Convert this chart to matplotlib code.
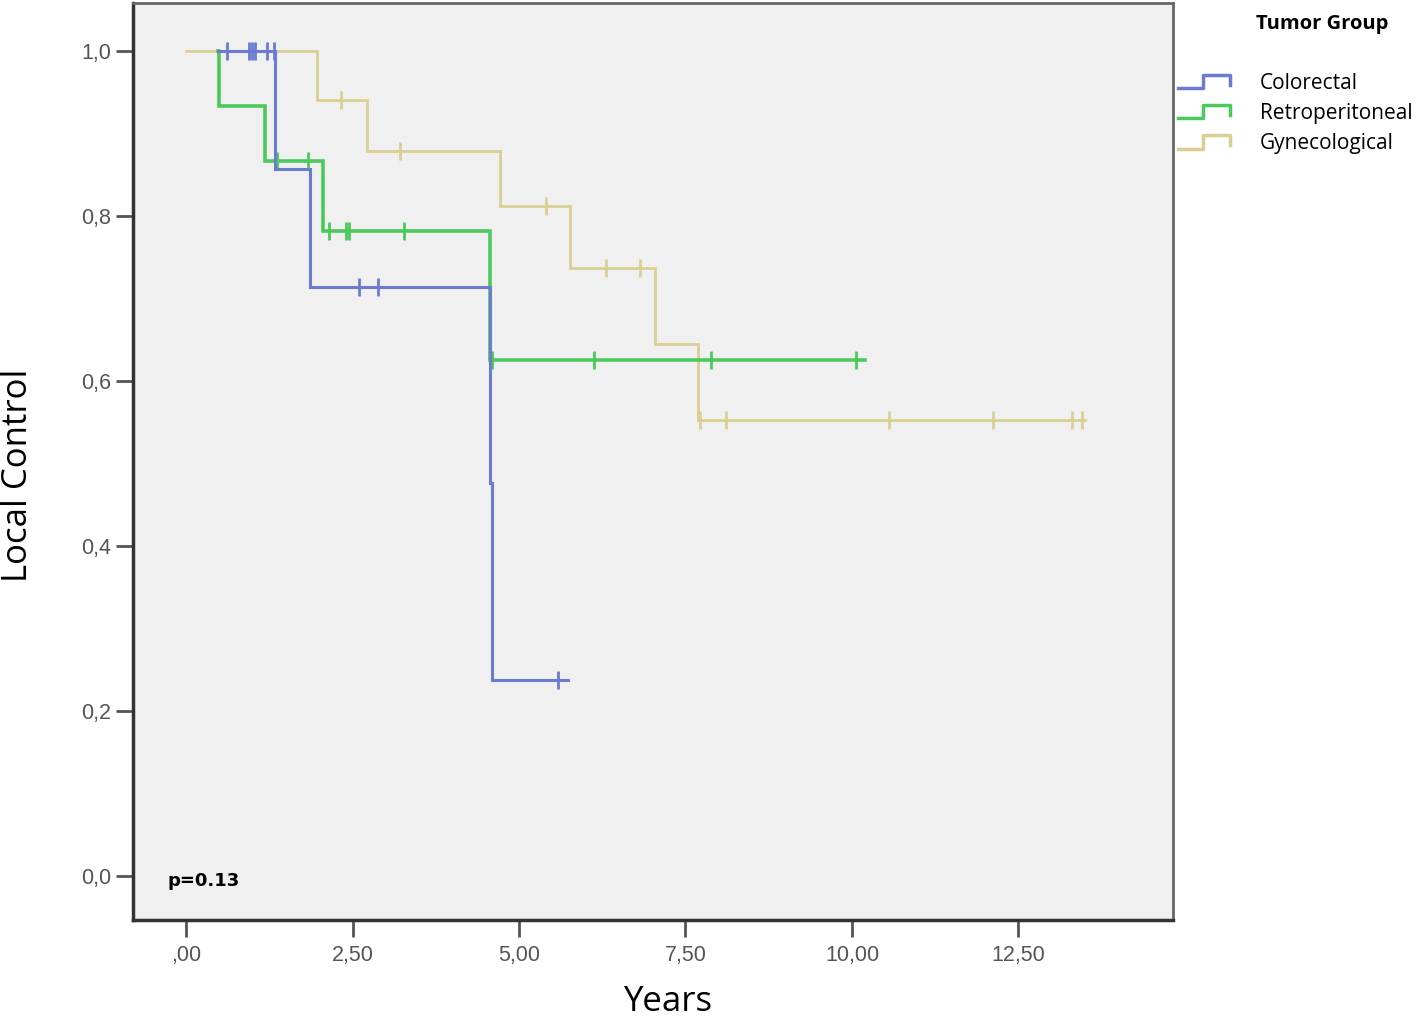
import numpy as np
import matplotlib
matplotlib.use("Agg")
import matplotlib.pyplot as plt
from matplotlib.legend_handler import HandlerBase
from matplotlib.lines import Line2D

# Kaplan-Meier curves (years, local control)
colo_t = [0.48, 1.34, 1.86, 4.56, 4.60]
colo_s = [1.0, 0.857, 0.714, 0.476, 0.238]
colo_end = 5.74
colo_cens = [0.61, 0.94, 0.99, 1.04, 1.21, 1.32, 2.59, 2.89, 5.59]

retro_t = [0.48, 0.50, 1.19, 2.06, 4.56]
retro_s = [1.0, 0.933, 0.866, 0.782, 0.625]
retro_end = 10.2
retro_cens = [1.36, 1.83, 2.14, 2.40, 2.44, 3.27, 4.59, 6.13, 7.88, 10.06]

gyn_t = [0.0, 1.96, 2.72, 4.71, 5.77, 7.04, 7.69]
gyn_s = [1.0, 0.941, 0.879, 0.812, 0.737, 0.645, 0.553]
gyn_end = 13.5
gyn_cens = [2.32, 3.21, 5.41, 6.31, 6.82, 7.72, 8.11, 10.55, 12.12, 13.30, 13.45]

groups = ["Colorectal", "Retroperitoneal", "Gynecological"]
colors = ["#6a7bd0", "#4cc95c", "#d9cf95"]

xticks = [0, 2.5, 5, 7.5, 10, 12.5]
xticklabels = [",00", "2,50", "5,00", "7,50", "10,00", "12,50"]
yticks = [0, 0.2, 0.4, 0.6, 0.8, 1.0]
yticklabels = ["0,0", "0,2", "0,4", "0,6", "0,8", "1,0"]

W, H = 1418, 1019
fig = plt.figure(figsize=(W / 100, H / 100), dpi=100)
ax = fig.add_axes([133 / W, 1 - 920 / H, (1173 - 133) / W, (920 - 3) / H])
ax.set_facecolor("#f0f0f0")


def km(ax, t, s, end, cens, color, lw):
    xs = list(t) + [end]
    ys = list(s) + [s[-1]]
    ax.step(xs, ys, where="post", color=color, lw=lw, solid_joinstyle="miter")
    idx = np.searchsorted(t, cens, side="right") - 1
    cy = np.array(s)[idx]
    ax.plot(cens, cy, ls="none", marker="|", ms=13, mew=2, color=color)


km(ax, gyn_t, gyn_s, gyn_end, gyn_cens, colors[2], 2.0)
km(ax, retro_t, retro_s, retro_end, retro_cens, colors[1], 2.6)
km(ax, colo_t, colo_s, colo_end, colo_cens, colors[0], 2.2)

ax.set_xlim(-0.796, 14.82)
ax.set_ylim(-0.0533, 1.058)
ax.set_xticks(xticks)
ax.set_xticklabels(xticklabels)
ax.set_yticks(yticks)
ax.set_yticklabels(yticklabels)
ax.tick_params(axis="x", length=12, width=2, color="#555555", pad=6,
               labelsize=15.5, labelcolor="#555555")
ax.tick_params(axis="y", length=12, width=2, color="#555555", pad=4,
               labelsize=15.5, labelcolor="#555555")
for lab in ax.get_xticklabels() + ax.get_yticklabels():
    lab.set_family(["Liberation Sans Narrow", "Liberation Sans", "DejaVu Sans"])

for side in ["left", "bottom"]:
    ax.spines[side].set_color("#333333")
    ax.spines[side].set_linewidth(2.5)
for side in ["top", "right"]:
    ax.spines[side].set_color("#666666")
    ax.spines[side].set_linewidth(2)

ax.text(0.033, 0.033, "p=0.13", transform=ax.transAxes, fontsize=13,
        weight="bold", family=["Liberation Sans Narrow", "DejaVu Sans"],
        ha="left", va="bottom")

fig.text(18 / W, 1 - 475 / H, "Local Control", rotation=90, fontsize=25,
         family="Open Sans", ha="center", va="center")
fig.text(668 / W, 1 - 1002 / H, "Years", fontsize=25,
         family=["Liberation Sans Narrow", "Open Sans"], ha="center", va="center")


class StepHandler(HandlerBase):
    def create_artists(self, legend, orig_handle, xdescent, ydescent,
                       width, height, fontsize, trans):
        xs = np.array([0, 0.48, 0.48, 1.0, 1.0]) * width - xdescent
        ys = np.array([0.05, 0.05, 0.95, 0.95, 0.3]) * height - ydescent
        ln = Line2D(xs, ys, color=orig_handle.get_color(), lw=2.5)
        ln.set_transform(trans)
        return [ln]


handles = [Line2D([], [], color=c) for c in colors]
leg = fig.legend(handles, groups, loc="upper left",
                 bbox_to_anchor=(1178 / W, 1 - 73 / H), frameon=False,
                 handler_map={Line2D: StepHandler()},
                 prop={"family": "Open Sans", "size": 15},
                 handlelength=2.5, handletextpad=1.44, labelspacing=0.44,
                 borderpad=0, borderaxespad=0)
fig.text(1322 / W, 1 - 24 / H, "Tumor Group", fontsize=14.5, weight="bold",
         family="Open Sans", ha="center", va="center")

fig.savefig("out.png", dpi=100, facecolor="white")
